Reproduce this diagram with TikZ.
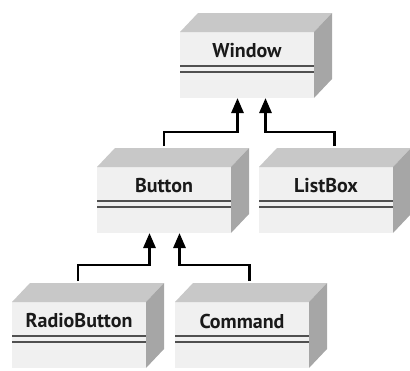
\documentclass[tikz,border=0pt]{standalone}
\usepackage{fontspec}
\setmainfont{PT Sans}
\usetikzlibrary{calc,arrows.meta}
\definecolor{frontc}{HTML}{F0F0F0}
\definecolor{topc}{HTML}{C8C8C8}
\definecolor{sidec}{HTML}{A6A6A6}
\definecolor{divc}{HTML}{505050}
\definecolor{txtc}{HTML}{1A1A1A}
\tikzset{
  frontface/.style={fill=frontc, inner sep=0pt, outer sep=0pt, minimum width=134pt, minimum height=66pt},
  topface/.style={fill=topc},
  sideface/.style={fill=sidec},
  divider/.style={draw=divc, line width=1.8pt},
  boxtext/.style={font=\fontsize{20}{22}\selectfont\bfseries, text=txtc, inner sep=0pt},
  inherit/.style={line width=2.8pt, -{Triangle[width=12pt,length=15pt]}, line join=miter}
}
\newcommand\umlbox[4]{%
  \node[frontface, anchor=north west] (#1) at (#2,#3) {};
  \fill[topface] (#1.north west) -- ++(18,-19) -- ($(#1.north east)+(18,-19)$) -- (#1.north east) -- cycle;
  \fill[sideface] (#1.north east) -- ++(18,-19) -- ($(#1.south east)+(18,-19)$) -- (#1.south east) -- cycle;
  \draw[divider] ($(#1.north west)+(0,34)$) -- ($(#1.north east)+(0,34)$);
  \draw[divider] ($(#1.north west)+(0,40)$) -- ($(#1.north east)+(0,40)$);
  \node[boxtext] (#1-t) at ($(#1.north)+(0,19)$) {#4};
}
\begin{document}
\begin{tikzpicture}[x=1pt, y=-1pt]
\useasboundingbox (0,0) rectangle (410,370);
\umlbox{win}{180}{32}{Window}
\umlbox{btn}{97}{167}{Button}
\umlbox{lst}{259}{167}{ListBox}
\umlbox{rad}{12}{302}{RadioButton}
\umlbox{cmd}{175}{302}{Command}
\draw[inherit] ($(btn.north)+(0,-21)$) |- ($(win.south)+(-9.5,34)$) -- ($(win.south)+(-9.5,0)$);
\draw[inherit] ($(lst.north)+(8.5,-21)$) |- ($(win.south)+(18.5,34)$) -- ($(win.south)+(18.5,0)$);
\draw[inherit] ($(rad.north)+(-1,-21)$) |- ($(btn.south)+(-14.5,32)$) -- ($(btn.south)+(-14.5,0)$);
\draw[inherit] ($(cmd.north)+(7.5,-21)$) |- ($(btn.south)+(15.5,32)$) -- ($(btn.south)+(15.5,0)$);
\end{tikzpicture}
\end{document}
